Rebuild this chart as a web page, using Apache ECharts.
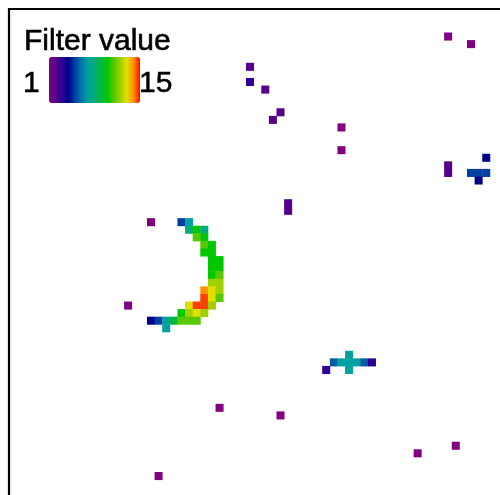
<!DOCTYPE html>
<html>
<head>
<meta charset="utf-8">
<script src="https://cdn.jsdelivr.net/npm/echarts@6/dist/echarts.min.js"></script>
<style>html,body{margin:0;padding:0;background:#fff}#chart{width:500px;height:495px}</style>
</head>
<body>
<div id="chart"></div>
<script>
// cell centers in grid units (x: columns from left, y: rows from top) and filter values
var cellX = [57.5,60.5, 31.5,31.5,33.5,35.5,34.5,43.5,43.5,
  62.5,57.5,57.5,60.5,61.5,62.5,61.5, 36.5,36.5,
  18.5,22.5,23.5, 23.5,24.5,25.5, 24.5,25.5, 25.5,26.5, 25.5,26.5, 26.5,27.5, 26.5,27.5, 26.5,27.5, 26.5,27.5,
  25.5,26.5,27.5, 25.5,26.5,27.5, 15.5,23.5,24.5,25.5,26.5, 22.5,23.5,24.5,25.5,
  18.5,19.5,20.5,21.5,22.5,23.5,24.5, 20.5,
  41.5,42.5,43.5,44.5,45.5,46.5,47.5,44.5,44.5,
  27.5,35.5,58.5,53.5,19.5];
var cellY = [3.5,4.5, 7.5,9.5,10.5,13.5,14.5,15.5,18.5,
  19.5,20.5,21.5,21.5,21.5,21.5,22.5, 25.5,26.5,
  28,28,28, 29,29,29, 30,30, 31,31, 32,32, 33,33, 34,34, 35,35, 36,36,
  37,37,37, 38,38,38, 39,39,39,39,39, 40,40,40,40,
  41,41,41,41,41,41,41, 42,
  47.5,46.5,46.5,46.5,46.5,46.5,46.5,45.5,47.5,
  52.5,53.5,57.5,58.5,61.5];
var cellValue = [1,1, 2,3,2,2,2,1,1,
  4,2,2,5,5,5,4, 2,2,
  1,5,7, 8,10,8, 11,10, 11,10, 10,10, 10,10, 10,10, 10,11, 12,12,
  14,13,12, 14.6,13,11, 1,13,14.6,14.6,12, 10,12,13,12,
  4,5,7,9,11,11,11, 7,
  3,5.5,7,7,7,5.5,3,7,7,
  1,1,1,1,1];
var legendTitle = 'Filter value';
var legendMin = 1, legendMax = 15;
var palette = ['#800080','#55008c','#2a0096','#00008c','#0040a0','#0078a8','#00a0a0',
  '#00ac78','#00b840','#00c800','#58c800','#a0d000','#e0e000','#ff9000','#ff0a00'];

var data = cellX.map(function (x, i) { return [x, cellY[i], cellValue[i]]; });
var nCols = 64, nRows = 64, cw = 7.62, ch = 7.65;
var font = '30px "Liberation Sans", Arial, sans-serif';

var chart = echarts.init(document.getElementById('chart'), null, {renderer: 'canvas'});
chart.setOption({
  animation: false,
  backgroundColor: '#ffffff',
  grid: {left: 10, top: 10, width: nCols * cw, height: nRows * ch, show: false},
  xAxis: {type: 'value', min: 0, max: nCols, show: false},
  yAxis: {type: 'value', min: 0, max: nRows, inverse: true, show: false},
  visualMap: {
    type: 'continuous', min: legendMin, max: legendMax, dimension: 2,
    orient: 'horizontal', left: 49, top: 57, padding: 0,
    itemWidth: 46, itemHeight: 91, calculable: false, text: null, showLabel: false,
    inRange: {color: palette}
  },
  series: [{
    type: 'scatter', symbol: 'rect', symbolSize: [cw + 0.4, ch + 0.4],
    data: data, itemStyle: {opacity: 1}
  }],
  graphic: [
    {type: 'polyline', shape: {points: [[9, 500], [9, 9], [500, 9]]}, style: {stroke: '#000', lineWidth: 2.2, fill: null}},
    {type: 'text', x: 24, y: 42, style: {text: legendTitle, font: font, fill: '#000', stroke: '#000', lineWidth: 0.6, textVerticalAlign: 'middle'}},
    {type: 'text', x: 23, y: 84, style: {text: String(legendMin), font: font, fill: '#000', stroke: '#000', lineWidth: 0.5, textVerticalAlign: 'middle'}},
    {type: 'text', x: 139, y: 84, style: {text: String(legendMax), font: font, fill: '#000', stroke: '#000', lineWidth: 0.5, textVerticalAlign: 'middle'}}
  ]
});
</script>
</body>
</html>
